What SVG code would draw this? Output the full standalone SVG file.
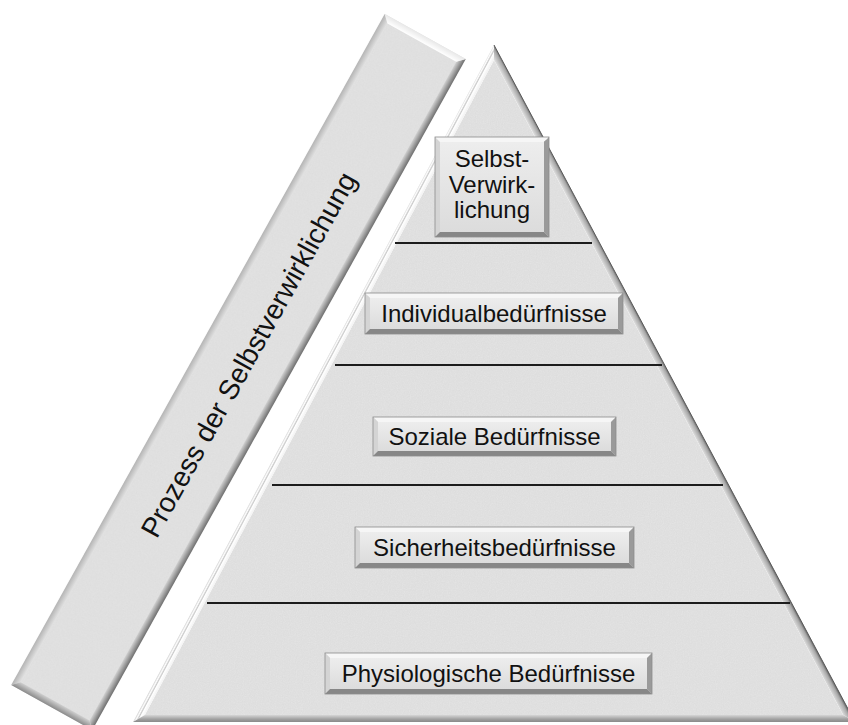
<svg xmlns="http://www.w3.org/2000/svg" width="848" height="725" viewBox="0 0 848 725">
  <defs>
    <filter id="grain" x="0" y="0" width="100%" height="100%">
      <feTurbulence type="fractalNoise" baseFrequency="0.85" numOctaves="2" seed="7" result="noise"/>
      <feColorMatrix in="noise" type="saturate" values="0" result="grey"/>
      <feComponentTransfer in="grey" result="soft">
        <feFuncR type="linear" slope="0.12" intercept="0.9"/>
        <feFuncG type="linear" slope="0.12" intercept="0.9"/>
        <feFuncB type="linear" slope="0.12" intercept="0.9"/>
        <feFuncA type="linear" slope="0" intercept="1"/>
      </feComponentTransfer>
      <feBlend in="SourceGraphic" in2="soft" mode="multiply" result="mix"/>
      <feComposite in="mix" in2="SourceGraphic" operator="in"/>
    </filter>
    <!-- pyramid bevel shading -->
    <linearGradient id="pyrLeft" gradientUnits="userSpaceOnUse" x1="319.7" y1="386.8" x2="313.5" y2="383.5">
      <stop offset="0" stop-color="#f2f2f2"/>
      <stop offset="0.45" stop-color="#ffffff"/>
      <stop offset="0.6" stop-color="#c9c9c9"/>
      <stop offset="0.8" stop-color="#ffffff"/>
      <stop offset="1" stop-color="#d8d8d8"/>
    </linearGradient>
    <linearGradient id="pyrRight" gradientUnits="userSpaceOnUse" x1="668.3" y1="386.8" x2="674.5" y2="383.5">
      <stop offset="0" stop-color="#dedede"/>
      <stop offset="0.7" stop-color="#a8a8a8"/>
      <stop offset="1" stop-color="#6a6a6a"/>
    </linearGradient>
    <linearGradient id="pyrBottom" x1="0" y1="0" x2="0" y2="1">
      <stop offset="0" stop-color="#d6d6d6"/>
      <stop offset="0.6" stop-color="#a0a0a0"/>
      <stop offset="1" stop-color="#8a8a8a"/>
    </linearGradient>
    <!-- bar bevel shading (local frame) -->
    <linearGradient id="barUpper" x1="0" y1="0" x2="0" y2="1">
      <stop offset="0" stop-color="#b4b4b4"/>
      <stop offset="1" stop-color="#e2e2e2"/>
    </linearGradient>
    <linearGradient id="barLower" x1="0" y1="1" x2="0" y2="0">
      <stop offset="0" stop-color="#6e6e6e"/>
      <stop offset="1" stop-color="#d2d2d2"/>
    </linearGradient>
    <linearGradient id="barTopEnd" x1="1" y1="0" x2="0" y2="0">
      <stop offset="0" stop-color="#e8e8e8"/>
      <stop offset="1" stop-color="#ffffff"/>
    </linearGradient>
    <linearGradient id="barBottomEnd" x1="0" y1="0" x2="1" y2="0">
      <stop offset="0" stop-color="#8a8a8a"/>
      <stop offset="1" stop-color="#cfcfcf"/>
    </linearGradient>
    <linearGradient id="btnFace" x1="0" y1="0" x2="0" y2="1">
      <stop offset="0" stop-color="#ededed"/>
      <stop offset="1" stop-color="#dcdcdc"/>
    </linearGradient>
    <style>
      .face { fill: #e4e4e4; filter: url(#grain); }
      .sep { stroke: #1c1c1c; stroke-width: 2.2; fill: none; }
      .b-top { fill: #f6f6f6; }
      .b-left { fill: #d4d4d4; }
      .b-right { fill: #9a9a9a; }
      .b-bottom { fill: #878787; }
      .b-face { fill: url(#btnFace); }
      .b-edge { fill: none; stroke: #8c8c8c; stroke-width: 0.8; }
      .lbl { font-family: "Liberation Sans", Arial, sans-serif; font-size: 24px; fill: #111; text-anchor: middle; }
      .bar-lbl { font-family: "Liberation Sans", Arial, sans-serif; font-size: 28px; fill: #111; text-anchor: middle; }
    </style>
  </defs>

  <rect width="848" height="725" fill="#ffffff"/>

  <!-- slanted bar: local x runs along the bar, local y across it -->
  <g id="bar" transform="translate(238.5 372) rotate(-60.9)">
    <rect class="face" x="-384" y="-46.35" width="768" height="92.7"/>
    <polygon fill="url(#barUpper)" points="-384,-46.35 384,-46.35 377,-39.35 -377,-39.35"/>
    <polygon fill="url(#barLower)" points="-384,46.35 384,46.35 377,39.35 -377,39.35"/>
    <polygon fill="url(#barTopEnd)" points="384,-46.35 384,46.35 377,39.35 377,-39.35"/>
    <polygon fill="url(#barBottomEnd)" points="-384,-46.35 -384,46.35 -377,39.35 -377,-39.35"/>
    <text class="bar-lbl" x="20" y="10">Prozess der Selbstverwirklichung</text>
  </g>

  <!-- pyramid body with bevelled edges -->
  <g id="pyramid">
    <polygon class="face" points="494,59.9 144.8,715 843.2,715"/>
    <polygon fill="url(#pyrLeft)" points="494,45 133,722 144.8,715 494,59.9"/>
    <polygon fill="url(#pyrRight)" points="494,45 855,722 843.2,715 494,59.9"/>
    <polygon fill="url(#pyrBottom)" points="133,722 855,722 843.2,715 144.8,715"/>
    <line x1="494" y1="45" x2="855" y2="722" stroke="#5a5a5a" stroke-width="1"/>
  </g>

  <!-- level separators -->
  <g id="separators">
    <line class="sep" x1="395" y1="243" x2="592" y2="243"/>
    <line class="sep" x1="335" y1="365" x2="662" y2="365"/>
    <line class="sep" x1="272" y1="485" x2="723" y2="485"/>
    <line class="sep" x1="207" y1="603" x2="790" y2="603"/>
  </g>

  <!-- level labels -->
  <g id="level-5">
    <rect class="b-face" x="440" y="142" width="104" height="90"/>
    <polygon class="b-top" points="435,137 549,137 544,142 440,142"/>
    <polygon class="b-left" points="435,137 440,142 440,232 435,237"/>
    <polygon class="b-right" points="549,137 549,237 544,232 544,142"/>
    <polygon class="b-bottom" points="435,237 440,232 544,232 549,237"/>
    <rect class="b-edge" x="435" y="137" width="114" height="100"/>
    <text class="lbl" x="492" y="167">Selbst-</text>
    <text class="lbl" x="492" y="192.5">Verwirk-</text>
    <text class="lbl" x="492" y="218">lichung</text>
  </g>

  <g id="level-4">
    <rect class="b-face" x="370" y="298" width="248" height="31"/>
    <polygon class="b-top" points="365,293 623,293 618,298 370,298"/>
    <polygon class="b-left" points="365,293 370,298 370,329 365,334"/>
    <polygon class="b-right" points="623,293 623,334 618,329 618,298"/>
    <polygon class="b-bottom" points="365,334 370,329 618,329 623,334"/>
    <rect class="b-edge" x="365" y="293" width="258" height="41"/>
    <text class="lbl" x="494" y="322">Individualbedürfnisse</text>
  </g>

  <g id="level-3">
    <rect class="b-face" x="378" y="422" width="233" height="29"/>
    <polygon class="b-top" points="373,417 616,417 611,422 378,422"/>
    <polygon class="b-left" points="373,417 378,422 378,451 373,456"/>
    <polygon class="b-right" points="616,417 616,456 611,451 611,422"/>
    <polygon class="b-bottom" points="373,456 378,451 611,451 616,456"/>
    <rect class="b-edge" x="373" y="417" width="243" height="39"/>
    <text class="lbl" x="494.5" y="445">Soziale Bedürfnisse</text>
  </g>

  <g id="level-2">
    <rect class="b-face" x="360" y="532" width="269" height="31"/>
    <polygon class="b-top" points="355,527 634,527 629,532 360,532"/>
    <polygon class="b-left" points="355,527 360,532 360,563 355,568"/>
    <polygon class="b-right" points="634,527 634,568 629,563 629,532"/>
    <polygon class="b-bottom" points="355,568 360,563 629,563 634,568"/>
    <rect class="b-edge" x="355" y="527" width="279" height="41"/>
    <text class="lbl" x="494.5" y="556">Sicherheitsbedürfnisse</text>
  </g>

  <g id="level-1">
    <rect class="b-face" x="330" y="658" width="317" height="31"/>
    <polygon class="b-top" points="325,653 652,653 647,658 330,658"/>
    <polygon class="b-left" points="325,653 330,658 330,689 325,694"/>
    <polygon class="b-right" points="652,653 652,694 647,689 647,658"/>
    <polygon class="b-bottom" points="325,694 330,689 647,689 652,694"/>
    <rect class="b-edge" x="325" y="653" width="327" height="41"/>
    <text class="lbl" x="488.5" y="682">Physiologische Bedürfnisse</text>
  </g>
</svg>
